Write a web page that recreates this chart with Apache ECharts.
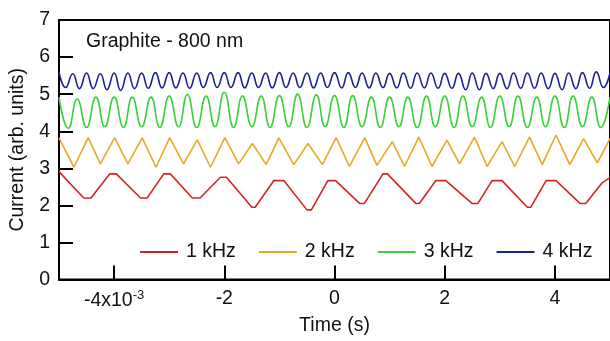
<!DOCTYPE html>
<html>
<head>
<meta charset="utf-8">
<script src="https://cdn.jsdelivr.net/npm/echarts@6/dist/echarts.min.js"></script>
<style>
  html, body { margin: 0; padding: 0; background: #fff; }
  #main { width: 610px; height: 341px; }
</style>
</head>
<body>
<div id="main"></div>
<script>
// time in ms (axis shows x10^-3 s), values in arb. units
var seriesNames = ['1 kHz', '2 kHz', '3 kHz', '4 kHz'];
var colors = ['#d22626', '#e8a828', '#3ccf3c', '#1e1e96'];
var xTicks = [-4, -2, 0, 2, 4];

var redTime = [-5.0, -4.9, -4.55, -4.42, -4.08, -3.96, -3.52, -3.4, -3.1, -2.98, -2.58, -2.44, -2.07, -1.96, -1.5, -1.44,
  -1.1, -0.92, -0.5, -0.42, -0.12, 0.02, 0.46, 0.54, 0.88, 0.96, 1.48, 1.54, 1.84, 2.02, 2.5, 2.6,
  2.86, 3.04, 3.5, 3.56, 3.84, 4.02, 4.46, 4.56, 4.85, 5.0];
var redValue = [2.92, 2.75, 2.2, 2.2, 2.85, 2.85, 2.2, 2.2, 2.85, 2.85, 2.2, 2.2, 2.76, 2.76, 1.95, 1.95,
  2.67, 2.67, 1.88, 1.88, 2.67, 2.67, 2.05, 2.05, 2.85, 2.85, 2.05, 2.05, 2.67, 2.67, 2.05, 2.05,
  2.67, 2.67, 1.95, 1.95, 2.67, 2.67, 2.05, 2.05, 2.6, 2.75];

var orangeTime = [-5.0, -4.73, -4.47, -4.25, -3.99, -3.75, -3.49, -3.24, -2.99, -2.74, -2.49, -2.25, -1.99, -1.74,
  -1.49, -1.24, -1.01, -0.74, -0.48, -0.22, 0.03, 0.27, 0.55, 0.77, 1.05, 1.27, 1.53, 1.77, 2.04, 2.27,
  2.54, 2.77, 3.04, 3.27, 3.54, 3.77, 4.02, 4.27, 4.52, 4.77, 5.0];
var orangeValue = [3.82, 3.03, 3.83, 3.12, 3.83, 3.12, 3.82, 3.03, 3.83, 3.12, 3.77, 3.03, 3.83, 3.12,
  3.67, 3.1, 3.82, 3.1, 3.67, 3.1, 3.83, 3.05, 3.83, 3.08, 3.72, 3.05, 3.84, 3.05, 3.76, 3.12,
  3.84, 3.05, 3.72, 3.05, 3.84, 3.1, 3.9, 3.1, 3.8, 3.15, 3.8];

var greenTime = [-5.0, -4.83, -4.67, -4.5, -4.33, -4.17, -4.0, -3.83, -3.67, -3.5, -3.33, -3.17, -3.0, -2.83,
  -2.67, -2.5, -2.33, -2.17, -2.0, -1.83, -1.67, -1.5, -1.33, -1.17, -1.0, -0.83, -0.67, -0.5, -0.33, -0.17,
  0.0, 0.17, 0.33, 0.5, 0.67, 0.83, 1.0, 1.17, 1.33, 1.5, 1.67, 1.83, 2.0, 2.17, 2.33, 2.5, 2.67, 2.83,
  3.0, 3.17, 3.33, 3.5, 3.67, 3.83, 4.0, 4.17, 4.33, 4.5, 4.67, 4.83, 5.0];
var greenValue = [4.92, 4.08, 4.87, 4.1, 4.92, 4.12, 4.92, 4.1, 4.92, 4.12, 4.92, 4.1, 4.95, 4.12, 4.99, 4.1,
  4.95, 4.12, 5.05, 4.1, 4.95, 4.12, 4.95, 4.1, 4.96, 4.12, 5.0, 4.1, 4.98, 4.12,
  4.96, 4.1, 4.96, 4.12, 4.92, 4.1, 4.92, 4.12, 4.92, 4.1, 4.95, 4.12, 4.95, 4.1, 4.95, 4.12,
  4.92, 4.1, 4.95, 4.12, 4.95, 4.1, 4.92, 4.12, 4.95, 4.1, 4.95, 4.12, 4.92, 4.1, 4.92];

var blueTime = [-5.0, -4.88, -4.75, -4.63, -4.5, -4.38, -4.25, -4.13, -4.0, -3.88, -3.75, -3.63, -3.5, -3.38,
  -3.25, -3.13, -3.0, -2.88, -2.75, -2.63, -2.5, -2.38, -2.25, -2.13, -2.0, -1.88, -1.75, -1.63, -1.5, -1.38,
  -1.25, -1.13, -1.0, -0.88, -0.75, -0.63, -0.5, -0.38, -0.25, -0.13, 0.0, 0.13, 0.25, 0.38, 0.5, 0.63,
  0.75, 0.88, 1.0, 1.13, 1.25, 1.38, 1.5, 1.63, 1.75, 1.88, 2.0, 2.13, 2.25, 2.38, 2.5, 2.63, 2.75, 2.88,
  3.0, 3.13, 3.25, 3.38, 3.5, 3.63, 3.75, 3.88, 4.0, 4.13, 4.25, 4.38, 4.5, 4.63, 4.75, 4.88, 5.0];
var blueValue = [5.6, 5.18, 5.55, 5.15, 5.57, 5.15, 5.55, 5.12, 5.57, 5.1, 5.57, 5.15, 5.57, 5.16, 5.58, 5.17,
  5.58, 5.17, 5.57, 5.16, 5.57, 5.18, 5.58, 5.18, 5.58, 5.18, 5.58, 5.17, 5.57, 5.18, 5.57, 5.17,
  5.58, 5.18, 5.57, 5.18, 5.57, 5.17, 5.57, 5.18, 5.58, 5.17, 5.58, 5.18, 5.57, 5.17, 5.57, 5.18,
  5.56, 5.17, 5.57, 5.16, 5.57, 5.17, 5.57, 5.16, 5.56, 5.16, 5.56, 5.12, 5.57, 5.12, 5.56, 5.15,
  5.56, 5.15, 5.57, 5.16, 5.57, 5.16, 5.57, 5.15, 5.56, 5.12, 5.57, 5.15, 5.58, 5.16, 5.6, 5.18, 5.57];

function pairs(t, v) {
  var out = [];
  for (var i = 0; i < t.length; i++) out.push([t[i], v[i]]);
  return out;
}

var font = 'Liberation Sans, Arial, sans-serif';
var chart = echarts.init(document.getElementById('main'));

var allData = [
  pairs(redTime, redValue),
  pairs(orangeTime, orangeValue),
  pairs(greenTime, greenValue),
  pairs(blueTime, blueValue)
];
var smoothFlags = [false, false, 0.5, 0.5];

var option = {
  animation: false,
  backgroundColor: '#fff',
  color: colors,
  grid: {
    left: 57, top: 20, width: 564, height: 268,
    show: true, borderColor: '#000', borderWidth: 2, backgroundColor: 'transparent'
  },
  graphic: [{
    type: 'text', left: 86, top: 32,
    style: { text: 'Graphite - 800 nm', font: '19.5px ' + font, fill: '#111' }
  }],
  legend: {
    left: 135, top: 237,
    icon: 'rect', itemWidth: 38, itemHeight: 2, itemGap: 23,
    textStyle: { fontFamily: font, fontSize: 19.5, color: '#111', padding: [0, 0, 0, 3] },
    data: seriesNames
  },
  xAxis: {
    type: 'value', min: -5, max: 5,
    name: 'Time (s)', nameLocation: 'middle', nameGap: 27,
    nameTextStyle: { fontFamily: font, fontSize: 19.5, color: '#111' },
    axisLine: { onZero: false, lineStyle: { color: '#000', width: 2 } },
    axisTick: { inside: true, length: 14, customValues: xTicks, lineStyle: { color: '#000', width: 2 } },
    axisLabel: {
      customValues: xTicks, margin: 9,
      fontFamily: font, fontSize: 19.5, color: '#111',
      formatter: function (v) { return v === -4 ? '-4x10{sup|-3}' : String(v); },
      rich: { sup: { fontFamily: font, fontSize: 13, verticalAlign: 'bottom', padding: [0, 0, 12, 0], color: '#111' } }
    },
    splitLine: { show: false }
  },
  yAxis: {
    type: 'value', min: 0, max: 7, interval: 1,
    name: 'Current (arb. units)', nameLocation: 'middle', nameGap: 31,
    nameTextStyle: { fontFamily: font, fontSize: 19.5, color: '#111' },
    axisLine: { show: true, onZero: false, lineStyle: { color: '#000', width: 2 } },
    axisTick: { show: true, inside: true, length: 14, lineStyle: { color: '#000', width: 2 } },
    axisLabel: { margin: 9, fontFamily: font, fontSize: 19.5, color: '#111' },
    splitLine: { show: false }
  },
  series: seriesNames.map(function (name, i) {
    return {
      name: name, type: 'line', data: allData[i],
      showSymbol: false, symbol: 'none', smooth: smoothFlags[i],
      lineStyle: { width: 1.6, color: colors[i] },
      itemStyle: { color: colors[i] }
    };
  })
};

chart.setOption(option);
</script>
</body>
</html>
